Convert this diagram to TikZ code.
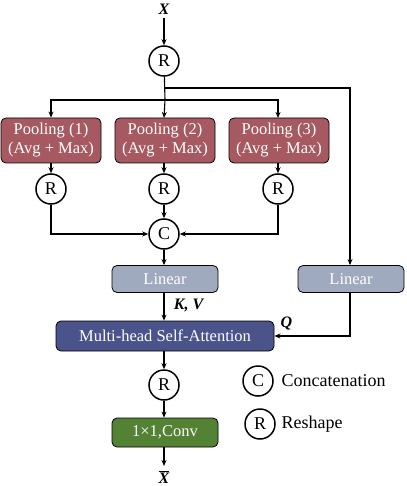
\documentclass[tikz,border=0pt]{standalone}
\usepackage{fontspec}
\setmainfont{Liberation Serif}
\usetikzlibrary{arrows.meta}
\definecolor{poolc}{RGB}{166,89,97}
\definecolor{linc}{RGB}{160,170,190}
\definecolor{mhc}{RGB}{74,83,138}
\definecolor{convc}{RGB}{84,130,53}
\begin{document}
\begin{tikzpicture}[x=1pt,y=-1pt,
  arr/.style={draw, line width=1.1pt, -{Stealth[length=6pt,width=5pt]}},
  circ/.style={circle, draw, line width=1.5pt, minimum size=30pt, inner sep=0pt, font=\fontsize{18}{18}\selectfont},
  box/.style={draw=black, line width=0.8pt, rounded corners=5pt, text=white, align=center, inner sep=0pt, font=\fontsize{16.5}{19}\selectfont},
  lbl/.style={font=\fontsize{16}{16}\selectfont\bfseries\itshape}
]
\useasboundingbox (0,0) rectangle (406,486);
\node[lbl] (X) at (164,9) {X};
\node[circ] (r0) at (164,61) {R};
\node[box, fill=poolc, minimum width=100pt, minimum height=45pt] (p1) at (51,140.5) {Pooling (1)\\(Avg + Max)};
\node[box, fill=poolc, minimum width=100pt, minimum height=45pt] (p2) at (165,140.5) {Pooling (2)\\(Avg + Max)};
\node[box, fill=poolc, minimum width=100pt, minimum height=45pt] (p3) at (279,140.5) {Pooling (3)\\(Avg + Max)};
\node[circ] (r1) at (51,189) {R};
\node[circ] (r2) at (164,189) {R};
\node[circ] (r3) at (278,189) {R};
\node[circ] (c) at (164,234) {C};
\node[box, fill=linc, minimum width=106pt, minimum height=27pt] (lin1) at (165,279) {Linear};
\node[box, fill=linc, minimum width=106pt, minimum height=27pt] (lin2) at (351,279) {Linear};
\node[box, fill=mhc, minimum width=218pt, minimum height=30pt] (mh) at (165,336) {Multi-head Self-Attention};
\node[circ] (r4) at (164,385) {R};
\node[box, fill=convc, minimum width=106pt, minimum height=29pt] (conv) at (165,432.5) {1\texttimes1,Conv};
\node[lbl] (Xb) at (164,477) {$\overline{\mbox{\bfseries\itshape X}}$};
\node[circ] (lc) at (258,381) {C};
\node[anchor=west, font=\fontsize{18}{18}\selectfont] (lct) at (278,381) {Concatenation};
\node[circ] (lr) at (260,424) {R};
\node[anchor=west, font=\fontsize{18}{18}\selectfont] (lrt) at (278,424) {Reshape};
\coordinate (b1) at (164,88);
\coordinate (b2) at (164,100);
\path[arr] (X) -- (r0);
\path[arr] (r0) -- (b2 -| p2.north) -- (164,118);
\path[arr] (b1) -| (lin2.north -| 350,0);
\path[arr] (b2) -| (p1.north);
\path[arr] (b2) -| (278,118);
\path[arr] (51,163) -- (r1);
\path[arr] (164,163) -- (r2);
\path[arr] (278,163) -- (r3);
\path[arr] (r2) -- (c);
\path[arr] (r1) |- (c);
\path[arr] (r3) |- (c);
\path[arr] (c) -- (lin1.north -| c);
\path[arr] (lin1.south -| c) -- (mh.north -| c) node[lbl, pos=0.45, anchor=west, xshift=6pt] {K, V};
\path[arr] (lin2.south -| 350,0) |- (mh.east) node[lbl, pos=0.92, above, yshift=2pt] {Q};
\path[arr] (mh.south -| r4) -- (r4);
\path[arr] (r4) -- (conv.north -| r4);
\path[arr] (conv.south -| r4) -- (164,466);
\end{tikzpicture}
\end{document}
